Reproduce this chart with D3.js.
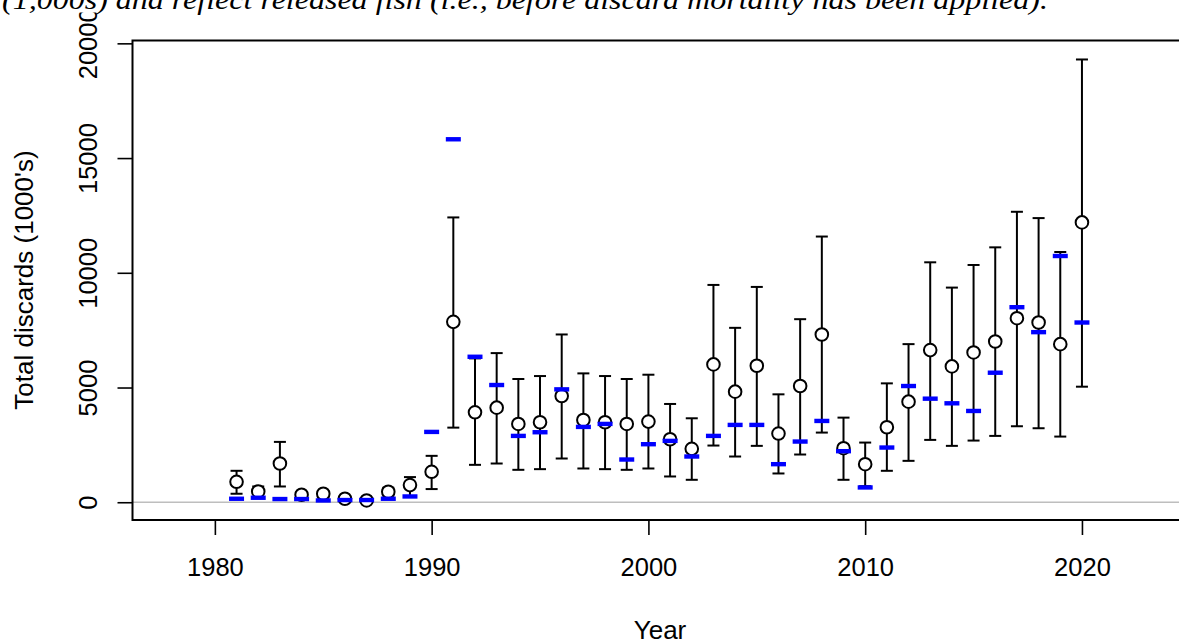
<!DOCTYPE html>
<html>
<head>
<meta charset="utf-8">
<script src="https://cdn.jsdelivr.net/npm/d3@7"></script>
<style>
  body { margin: 0; background: white; }
  svg { display: block; }
</style>
</head>
<body>
<script>
// observed discards (circles) with CI, and model predictions (blue dashes)
var years = d3.range(1981, 2021);
var observed = [891, 470, 1687, 326, 370, 152, 78, 457, 748, 1326,
                7862, 3920, 4123, 3413, 3486, 4630, 3587, 3486, 3413, 3515,
                2746, 2326, 6007, 4819, 5949, 2993, 5065, 7312, 2355, 1659,
                3268, 4384, 6630, 5920, 6529, 7007, 8022, 7833, 6891, 12196];
var upper = [1370, 687, 2630, 443, 487, 226, 151, 630, 1096, 2022,
             12413, 6270, 6500, 5370, 5500, 7312, 5616, 5500, 5370, 5558,
             4283, 3659, 9471, 7601, 9384, 4703, 7978, 11580, 3688, 2601,
             5181, 6891, 10457, 9355, 10341, 11109, 12659, 12384, 10906, 19297];
var lower = [370, 226, 687, 165, 209, 78, 20, 209, 252, 574,
             3252, 1630, 1688, 1413, 1442, 1906, 1471, 1442, 1413, 1471,
             1123, 978, 2471, 1993, 2457, 1254, 2080, 3036, 978, 700,
             1370, 1804, 2717, 2457, 2688, 2891, 3312, 3225, 2862, 5036];
var predicted = [152, 196, 139, 139, 78, 96, 96, 152, 252, 3065,
                 15819, 6340, 5109, 2891, 3051, 4920, 3283, 3413, 1862, 2529,
                 2674, 1993, 2891, 3370, 3370, 1659, 2645, 3543, 2225, 645,
                 2384, 5065, 4514, 4312, 3978, 5645, 8500, 7413, 10732, 7833];
var xTicks = [1980, 1990, 2000, 2010, 2020];
var yTicks = [0, 5000, 10000, 15000, 20000];
var caption = "(1,000s) and reflect released fish (i.e., before discard mortality has been applied).";

var width = 1179, height = 644;
var plotLeft = 132.5, plotRight = 1186, plotTop = 40.5, plotBottom = 520;
var fontSans = "'Liberation Sans', Arial, sans-serif";

var data = years.map(function(yr, i) {
    return {year: yr, obs: observed[i], hi: upper[i], lo: lower[i], pred: predicted[i]};
});

var svg = d3.select("body").append("svg")
    .attr("width", width)
    .attr("height", height)
    .style("font-family", fontSans);

var x = d3.scaleLinear().domain([1976.2, 2024.8]).range([plotLeft, plotRight]);
var y = d3.scaleLinear().domain([-774, 20124]).range([plotBottom, plotTop]);

// zero reference line
svg.append("line")
    .attr("x1", plotLeft).attr("x2", plotRight)
    .attr("y1", y(0)).attr("y2", y(0))
    .attr("stroke", "#bebebe")
    .attr("stroke-width", 1.5);

// error bars
var bars = svg.append("g")
    .attr("stroke", "black")
    .attr("stroke-width", 2);
bars.selectAll(".ci")
    .data(data)
    .enter().append("line")
    .attr("x1", d => x(d.year)).attr("x2", d => x(d.year))
    .attr("y1", d => y(d.hi)).attr("y2", d => y(d.lo));
bars.selectAll(".capHi")
    .data(data)
    .enter().append("line")
    .attr("x1", d => x(d.year) - 6).attr("x2", d => x(d.year) + 6)
    .attr("y1", d => y(d.hi)).attr("y2", d => y(d.hi));
bars.selectAll(".capLo")
    .data(data)
    .enter().append("line")
    .attr("x1", d => x(d.year) - 6).attr("x2", d => x(d.year) + 6)
    .attr("y1", d => y(d.lo)).attr("y2", d => y(d.lo));

// observed points
svg.append("g").selectAll("circle")
    .data(data)
    .enter().append("circle")
    .attr("cx", d => x(d.year))
    .attr("cy", d => y(d.obs))
    .attr("r", 6.3)
    .attr("fill", "white")
    .attr("stroke", "black")
    .attr("stroke-width", 2);

// predicted
svg.append("g").selectAll("rect")
    .data(data)
    .enter().append("rect")
    .attr("x", d => x(d.year) - 7.5)
    .attr("y", d => y(d.pred) - 2.2)
    .attr("width", 15)
    .attr("height", 4.4)
    .attr("fill", "#0000ff");

// box
svg.append("rect")
    .attr("x", plotLeft).attr("y", plotTop)
    .attr("width", plotRight - plotLeft).attr("height", plotBottom - plotTop)
    .attr("fill", "none")
    .attr("stroke", "black")
    .attr("stroke-width", 2);

// x axis
var xAxis = svg.append("g")
    .attr("transform", "translate(0," + plotBottom + ")")
    .call(d3.axisBottom(x).tickValues(xTicks).tickFormat(d3.format("d")).tickSize(15).tickPadding(23).tickSizeOuter(0));
xAxis.select(".domain").remove();
xAxis.selectAll("line").attr("stroke", "black").attr("stroke-width", 1.6);
xAxis.selectAll("text")
    .attr("font-size", 25.5)
    .attr("font-family", fontSans)
    .attr("fill", "black");

// y axis (labels parallel to axis)
var yAxis = svg.append("g")
    .attr("transform", "translate(" + plotLeft + ",0)")
    .call(d3.axisLeft(y).tickValues(yTicks).tickFormat(d3.format("d")).tickSize(15).tickSizeOuter(0));
yAxis.select(".domain").remove();
yAxis.selectAll("line").attr("stroke", "black").attr("stroke-width", 1.6);
yAxis.selectAll("text")
    .attr("x", null).attr("dy", null)
    .attr("transform", "translate(-36,0) rotate(-90)")
    .attr("text-anchor", "middle")
    .attr("font-size", 25.5)
    .attr("font-family", fontSans)
    .attr("fill", "black");

// axis titles
svg.append("text")
    .attr("transform", "translate(33,280) rotate(-90)")
    .attr("text-anchor", "middle")
    .attr("font-size", 26)
    .text("Total discards (1000's)");
svg.append("text")
    .attr("x", 660).attr("y", 639)
    .attr("text-anchor", "middle")
    .attr("font-size", 26)
    .text("Year");

// caption of the page above the figure (cut at the top)
svg.append("rect")
    .attr("x", 0).attr("y", 0)
    .attr("width", width).attr("height", 12.5)
    .attr("fill", "white");
svg.append("text")
    .attr("x", 2).attr("y", 9)
    .attr("font-family", "'Liberation Serif', 'DejaVu Serif', serif")
    .attr("font-style", "italic")
    .attr("font-size", 28)
    .attr("textLength", 1046)
    .attr("lengthAdjust", "spacingAndGlyphs")
    .text(caption);
</script>
</body>
</html>
